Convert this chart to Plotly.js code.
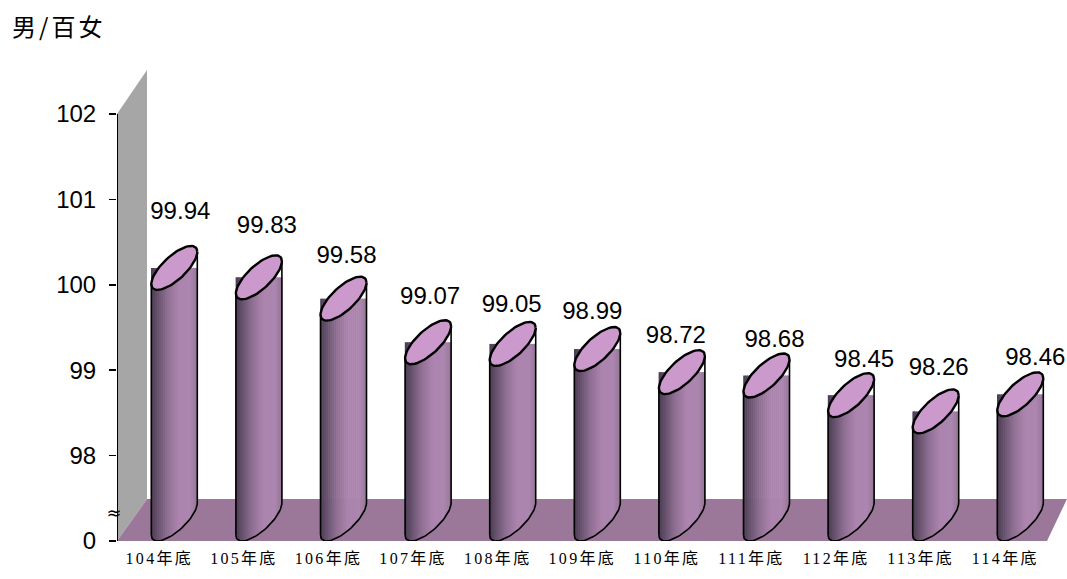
<!DOCTYPE html>
<html>
<head>
<meta charset="utf-8">
<script src="https://cdn.plot.ly/plotly-3.0.1.min.js"></script>
<style>
html,body{margin:0;padding:0;background:#fff}
.xtick text{letter-spacing:2.3px}
.annotation-text.title-cjk, .annotation text{letter-spacing:3px}
</style>
</head>
<body>
<div id="chart" style="width:1067px;height:579px"></div>
<script>
// ---- data ----
const categories = ['104年底','105年底','106年底','107年底','108年底','109年底','110年底','111年底','112年底','113年底','114年底'];
const ratios = [99.94,99.83,99.58,99.07,99.05,98.99,98.72,98.68,98.45,98.26,98.46];
const yTickValues = [97,98,99,100,101,102];
const yTickLabels = ['0','98','99','100','101','102'];

// ---- hand placement of the value labels in the original (pixels) ----
const labelNudgeX = [6,8,3,2,-1,-5,-6,8,13,3,15];
const labelNudgeY = [77,72,64,66,60,58,57,56.5,56,64,57];

// ---- geometry ----
const W = 1067, H = 579;
const mL = 117, mT = 50, mB = 38;
const pxPerCat = 84.6, pxPerUnit = 85.4;
const dx = p => p / pxPerCat, dy = p => p / pxPerUnit;
const yBase = 97;
const xMin = -0.5, xMax = xMin + (W - mL) / pxPerCat;
const yMax = yBase + (H - mB - mT) / pxPerUnit;
const cylShift = dx(15), halfW = 23, halfH = 22, tilt = 43 * Math.PI / 180;
const N = 23;

// pixel offsets of ellipse outline at param t
const ex = t => halfW * Math.cos(t);
const ey = t => halfH * Math.cos(t - tilt); // upward offset from ellipse centre

function ramp(u){ // u in 0..1 across the cylinder
  const stops = [[0,[74,58,82]],[0.12,[98,78,104]],[0.35,[142,110,146]],[0.6,[172,132,174]],[0.85,[172,134,176]],[1,[150,118,152]]];
  for(let i=1;i<stops.length;i++){
    if(u<=stops[i][0]){
      const a=stops[i-1],b=stops[i],f=(u-a[0])/(b[0]-a[0]);
      const c=a[1].map((v,k)=>Math.round(v+(b[1][k]-v)*f));
      return `rgb(${c.join(',')})`;
    }
  }
}

const traces = [];
const xs = categories.map((_,i)=>i);

// body strips: real bars, their foot following the lower edge of the base ellipse
for(let s=0;s<N;s++){
  const u=(s+0.5)/N, xp=-halfW+2*halfW*u;
  const t=Math.acos(xp/halfW);
  const lower=Math.min(ey(t),ey(-t));
  const footPx=halfH+lower;   // height above baseline of the lower edge
  const bases=ratios.map(()=>yBase+dy(footPx));
  const heights=ratios.map(v=>v+dy(halfH)-(yBase+dy(footPx)));
  traces.push({type:'bar',x:xs,y:heights,base:bases,
    width:dx(2*halfW/N+0.6),
    offset:cylShift+dx(xp-halfW/N-0.3),
    marker:{color:ramp(u),line:{width:0}},hoverinfo:'skip',showlegend:false});
}

// outlines
const topX=[],topY=[],sideX=[],sideY=[];
const steps=72;
xs.forEach((c,i)=>{
  const v=ratios[i], cx=c+cylShift;
  const topCy=v+dy(halfH), baseCy=yBase+dy(halfH);
  for(let k=0;k<=steps;k++){
    const t=2*Math.PI*k/steps;
    topX.push(cx+dx(ex(t))); topY.push(topCy+dy(ey(t)));
  }
  topX.push(null);topY.push(null);
  sideX.push(cx-dx(halfW),cx-dx(halfW),null,cx+dx(halfW),cx+dx(halfW),null);
  sideY.push(topCy+dy(ey(Math.PI)),baseCy+dy(ey(Math.PI)),null,topCy+dy(ey(0)),baseCy+dy(ey(0)),null);
  for(let k=0;k<=steps/2;k++){
    const t=Math.PI+Math.PI*k/(steps/2);
    sideX.push(cx+dx(ex(t))); sideY.push(baseCy+dy(ey(t)));
  }
  sideX.push(null);sideY.push(null);
});
traces.push({type:'scatter',mode:'lines',x:sideX,y:sideY,line:{color:'#000',width:1.6},hoverinfo:'skip',showlegend:false,connectgaps:false});
traces.push({type:'scatter',mode:'lines',x:topX,y:topY,fill:'toself',fillcolor:'#cc99cc',line:{color:'#000',width:2.4},hoverinfo:'skip',showlegend:false});

// value labels
traces.push({type:'scatter',mode:'text',
  x:xs.map(i=>i+cylShift+dx(labelNudgeX[i])),
  y:ratios.map((v,i)=>v+dy(labelNudgeY[i])),
  text:ratios.map(v=>v.toFixed(2)),textposition:'middle center',
  textfont:{family:'"Liberation Sans",Arial,sans-serif',size:24,color:'#000'},
  hoverinfo:'skip',showlegend:false,cliponaxis:false});

const layout={
  width:W,height:H,margin:{l:mL,r:0,t:mT,b:mB,pad:0},
  paper_bgcolor:'#fff',plot_bgcolor:'#fff',showlegend:false,barmode:'overlay',
  xaxis:{range:[xMin,xMax],tickmode:'array',tickvals:xs,ticktext:categories,showgrid:false,zeroline:false,showline:false,ticks:'',
    tickangle:0,ticklabelstandoff:6,
    tickfont:{family:'"Liberation Serif","Noto Sans CJK TC",serif',size:16,color:'#000'}},
  yaxis:{range:[yBase,yMax],tickmode:'array',tickvals:yTickValues,ticktext:yTickLabels,showgrid:false,zeroline:false,showline:false,
    ticks:'outside',ticklen:7,tickwidth:1.5,tickcolor:'#000',ticklabelstandoff:8,
    tickfont:{family:'"Liberation Sans",Arial,sans-serif',size:24,color:'#000'}},
  shapes:[
    {type:'path',layer:'below',xref:'x',yref:'y',line:{width:0},fillcolor:'#a6a6a6',
      path:`M${xMin},102 L${xMin+dx(30)},${102+dy(44)} L${xMin+dx(30)},${yBase+dy(42)} L${xMin},${yBase} Z`},
    {type:'path',layer:'below',xref:'x',yref:'y',line:{width:0},fillcolor:'#9b7899',
      path:`M${xMin},${yBase} L${xMin+dx(30)},${yBase+dy(42)} L${xMax},${yBase+dy(42)} L${xMax-dx(20)},${yBase} Z`},
    {type:'line',layer:'above',xref:'x',yref:'y',x0:xMin,x1:xMin,y0:yBase,y1:102,line:{color:'#000',width:2}}
  ],
  annotations:[
    {xref:'paper',yref:'paper',xanchor:'left',yanchor:'middle',x:(10-mL)/(W-mL),y:(H-mB-26)/(H-mB-mT),showarrow:false,align:'left',
     text:'男/百女',font:{family:'"Noto Sans CJK TC",serif',size:24,color:'#000'}},
    {xref:'paper',yref:'paper',xanchor:'center',yanchor:'middle',x:(115-mL)/(W-mL),y:(H-mB-512)/(H-mB-mT),showarrow:false,
     text:'≈',font:{family:'"DejaVu Sans",sans-serif',size:18,color:'#000'}}
  ]
};
Plotly.newPlot('chart',traces,layout,{staticPlot:true,displayModeBar:false});
</script>
</body>
</html>
